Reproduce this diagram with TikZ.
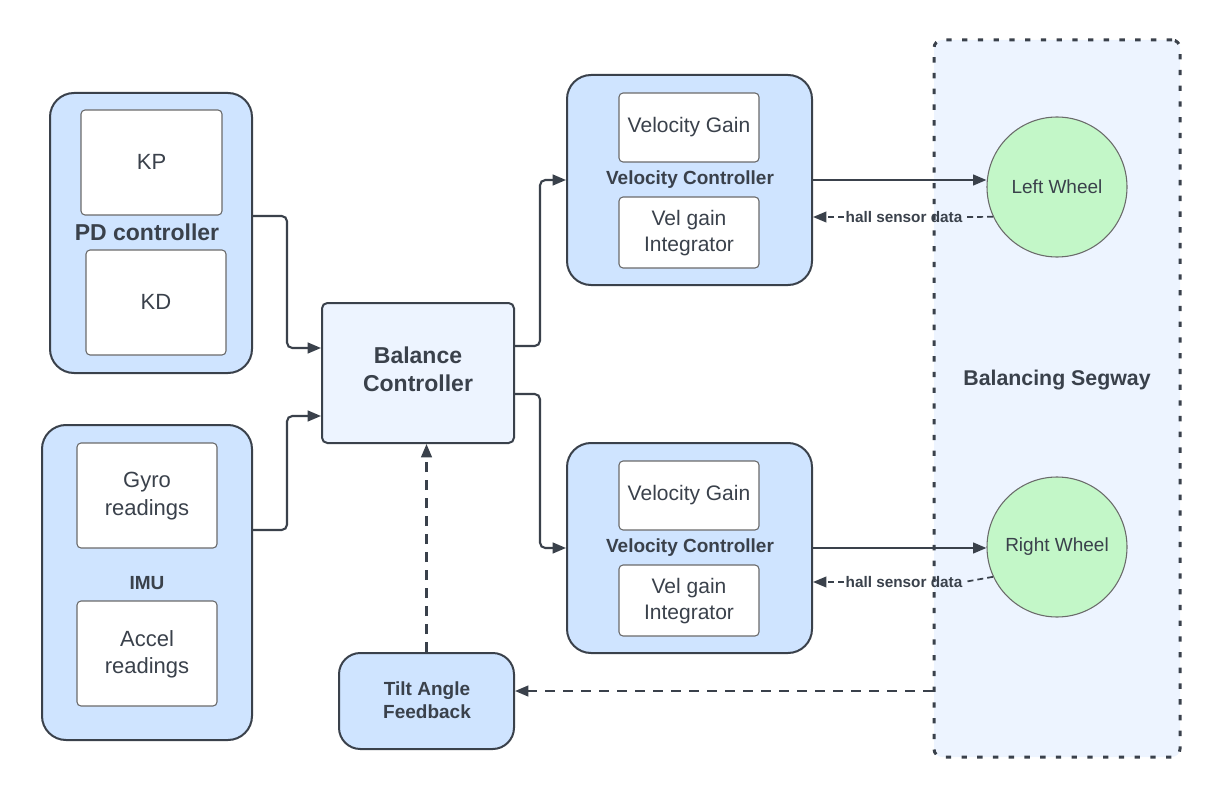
\documentclass[tikz,border=0pt]{standalone}
\usepackage{fontspec}
\setmainfont{Liberation Sans}
\usetikzlibrary{fit,arrows.meta}
\definecolor{ink}{HTML}{3A414B}
\definecolor{contfill}{HTML}{CFE4FF}
\definecolor{palefill}{HTML}{EDF4FF}
\definecolor{wheelfill}{HTML}{C3F7C8}
\definecolor{innerline}{HTML}{6A6A6A}
\newcommand\myfs[2]{\fontsize{#1}{#2}\selectfont}
\begin{document}
\begin{tikzpicture}[x=0.75pt,y=-0.75pt,
  container/.style={draw=ink, line width=1.5pt, fill=contfill, rounded corners=18pt, inner sep=0pt},
  innerbox/.style={draw=innerline, line width=0.8pt, fill=white, rounded corners=3pt, inner sep=0pt},
  intext/.style={align=center, text=ink, font=\myfs{16.5pt}{20.5pt}, inner sep=0pt},
  vtext/.style={intext, font=\myfs{15.75pt}{19.5pt}},
  ttl/.style={text=ink, font=\bfseries\myfs{14.25pt}{17pt}, align=center, inner sep=0pt},
  wheel/.style={circle, draw=innerline, line width=0.8pt, fill=wheelfill, minimum size=105pt,
    inner sep=0pt, text=ink, font=\myfs{14.25pt}{17pt}},
  conn/.style={draw=ink, line width=1.6pt, -{Triangle[length=10pt,width=8pt]}, rounded corners=4pt},
  dconn/.style={conn, dash pattern=on 7.5pt off 6pt},
  hsconn/.style={draw=ink, line width=1.3pt, dash pattern=on 4.5pt off 3pt},
  hslabel/.style={text=ink, font=\bfseries\myfs{11.5pt}{14pt}, inner sep=1pt}
]
\useasboundingbox (0,0) rectangle (1207,788);

% Balancing Segway region
\node[draw=ink, line width=2.25pt, fill=palefill, rounded corners=6pt, inner sep=0pt,
  dash pattern=on 4pt off 7.8pt, fit={(934,40) (1180,757)}] (seg) {};
\node[ttl, font=\bfseries\myfs{16pt}{19pt}] (segt) at (1057,380) {Balancing Segway};

% PD controller
\node[container, fit={(50,93) (252,373)}] (pd) {};
\node[innerbox, fit={(81,110) (222,215)}] (kp) {};
\node[intext] (kpt) at (151.5,162) {KP};
\node[innerbox, fit={(86,250) (226,355)}] (kd) {};
\node[intext] (kdt) at (156,302) {KD};
\node[ttl, font=\bfseries\myfs{17.25pt}{20pt}] (pdt) at (147,232) {PD controller};

% IMU
\node[container, fit={(42,425) (252,740)}] (imu) {};
\node[innerbox, fit={(77,443) (217,548)}] (gyro) {};
\node[intext] (gyrot) at (147,496) {Gyro\\readings};
\node[innerbox, fit={(77,601) (217,706)}] (accel) {};
\node[intext] (accelt) at (147,654) {Accel\\readings};
\node[ttl] (imut) at (147,583) {IMU};

% Balance controller
\node[draw=ink, line width=1.5pt, fill=palefill, rounded corners=4pt, inner sep=0pt,
  fit={(322,303) (514,443)}] (bal) {};
\node[ttl, font=\bfseries\myfs{17.25pt}{21pt}] (balt) at (418,369) {Balance\\Controller};

% Tilt angle feedback
\node[container, rounded corners=16pt, fit={(339,653) (514,749)}] (tilt) {};
\node[ttl, font=\bfseries\myfs{14.25pt}{17.25pt}] (tiltt) at (427,700) {Tilt Angle\\Feedback};

% Velocity controllers
\node[container, fit={(567,75) (812,285)}] (vc1) {};
\node[innerbox, fit={(619,93) (759,162)}] (vg1) {};
\node[vtext] (vg1t) at (689,127) {Velocity Gain};
\node[innerbox, fit={(619,197) (759,268)}] (vi1) {};
\node[vtext] (vi1t) at (689,233) {Vel gain\\Integrator};
\node[ttl] (vc1t) at (690,180) {Velocity Controller};

\node[container, fit={(567,443) (812,653)}] (vc2) {};
\node[innerbox, fit={(619,461) (759,530)}] (vg2) {};
\node[vtext] (vg2t) at (689,495) {Velocity Gain};
\node[innerbox, fit={(619,565) (759,636)}] (vi2) {};
\node[vtext] (vi2t) at (689,601) {Vel gain\\Integrator};
\node[ttl] (vc2t) at (690,548) {Velocity Controller};

% Wheels
\node[wheel] (lw) at (1057,187) {Left Wheel};
\node[wheel] (rw) at (1057,547) {Right Wheel};

% hall sensor labels
\node[hslabel] (hs1) at (904,217) {hall sensor data};
\node[hslabel] (hs2) at (904,582) {hall sensor data};

% connectors
\draw[conn] (pd.east |- 0,216) -- (287,216) -- (287,348) -- (bal.west |- 0,348);
\draw[conn] (imu.east |- 0,530) -- (287,530) -- (287,416) -- (bal.west |- 0,416);
\draw[conn] (bal.east |- 0,346) -- (540,346) -- (540,180) -- (vc1.west |- 0,180);
\draw[conn] (bal.east |- 0,394) -- (540,394) -- (540,548) -- (vc2.west |- 0,548);
\draw[conn] (vc1.east |- 0,180) -- (lw.west |- 0,180);
\draw[conn] (vc2.east |- 0,548) -- (rw.west |- 0,548);

\draw[hsconn] (lw.205) -- (hs1.east);
\draw[hsconn, -{Triangle[length=10pt,width=8pt]}] (hs1.west) -- (vc1.east |- hs1);
\draw[hsconn] (rw.205) -- (hs2.east);
\draw[hsconn, -{Triangle[length=10pt,width=8pt]}] (hs2.west) -- (vc2.east |- hs2);

\draw[dconn] (seg.west |- 0,691) -- (tilt.east |- 0,691);
\draw[dconn] (tilt.north) -- (tilt.north |- bal.south);
\end{tikzpicture}
\end{document}
